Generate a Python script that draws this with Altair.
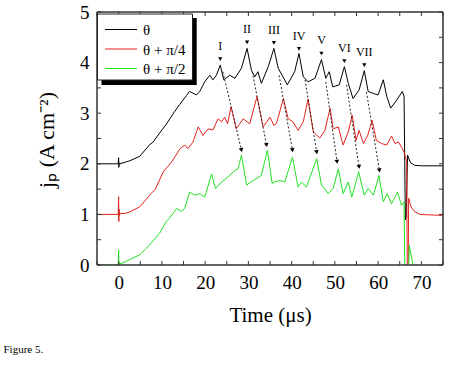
import math
import altair as alt
import pandas as pd

# ---------------- data ----------------
black_t = [-5, -0.1, 0, 0.05, 0.15, 0.3, 1.8, 2.6, 4.9, 7.2, 7.9, 8.8, 11.0, 12.7, 14.1, 15.7, 16.4, 18.0,
           18.75, 19.9, 21.1, 21.8, 22.6, 23.5, 24.3, 25.7, 26.9, 28.4, 29.7, 30.7, 31.5, 32.2, 33.0, 34.6,
           35.9, 36.9, 38.0, 39.0, 40.7, 41.7, 42.7, 43.8, 45.4, 46.9, 47.9, 48.7, 49.5, 51.0, 52.2, 53.1,
           54.2, 55.6, 56.8, 57.7, 58.9, 60.0, 61.2, 62.0, 62.9, 64.3, 65.6, 66.0, 66.3, 66.5, 66.8, 67.5,
           68.5, 70, 75]
black_v = [2.0, 2.0, 2.12, 1.93, 2.02, 2.0, 2.04, 2.06, 2.15, 2.38, 2.42, 2.53, 2.78, 3.0, 3.17, 3.35, 3.43, 3.36,
           3.43, 3.62, 3.75, 3.66, 3.75, 3.95, 3.66, 3.75, 3.69, 3.89, 4.28, 3.85, 3.72, 3.82, 3.59, 3.92,
           4.28, 3.89, 3.72, 3.56, 3.82, 4.18, 3.72, 3.62, 3.69, 4.06, 3.69, 3.82, 3.52, 3.56, 3.92, 3.59,
           3.29, 3.46, 3.84, 3.43, 3.39, 3.36, 3.66, 3.33, 3.10, 3.26, 3.43, 3.33, 0.89, 0.95, 2.17, 2.02,
           1.97, 1.96, 1.96]

red_t = [-5, -0.1, 0, 0.05, 0.1, 0.2, 0.4, 1.5, 2.6, 4.9, 7.2, 7.6, 8.5, 10.3, 12.3, 14.2, 15.3, 16.0, 17.2,
         18.4, 19.5, 20.7, 21.8, 23.0, 23.8, 24.5, 25.2, 26.0, 27.2, 28.8, 30.3, 32.0, 33.4, 35.0, 35.9, 36.5,
         38.1, 39.2, 40.3, 41.5, 42.7, 43.8, 45.0, 46.5, 47.7, 48.9, 49.6, 50.8, 51.9, 53.1, 54.0, 54.9, 55.6,
         56.6, 57.6, 58.6, 59.6, 60.8, 62.0, 63.1, 63.9, 64.7, 65.4, 66.0, 66.6, 66.75, 66.95, 67.05, 67.6,
         68.5, 69.7, 72, 75]
red_v = [1.0, 1.0, 1.35, 0.86, 1.1, 0.98, 1.02, 1.02, 1.05, 1.15, 1.38, 1.42, 1.5, 1.84, 2.04, 2.3, 2.37, 2.30, 2.43,
         2.73, 2.56, 2.69, 2.67, 2.89, 2.83, 2.92, 2.79, 3.13, 2.69, 2.89, 2.79, 3.33, 2.73, 2.92, 2.76, 2.8,
         3.29, 2.89, 2.83, 2.66, 2.83, 3.28, 2.63, 2.51, 2.66, 3.10, 2.69, 2.73, 2.37, 2.63, 2.96, 2.46, 2.66,
         2.40, 2.56, 2.86, 2.46, 2.40, 2.37, 2.55, 2.40, 2.43, 2.33, 2.23, 2.05, -0.3, -0.3, 1.32, 1.15,
         1.05, 1.0, 0.99, 0.98]

green_t = [-5, -0.1, 0, 0.05, 0.1, 0.3, 1.5, 3.3, 4.9, 7.2, 9.5, 11.0, 11.8, 12.6, 13.4, 14.5, 15.3, 16.4, 17.6,
           18.75, 19.9, 21.5, 22.4, 23.8, 25.3, 26.9, 27.6, 28.4, 29.6, 31.1, 33.0, 34.4, 35.5, 36.1, 37.3,
           38.4, 40.2, 41.5, 42.3, 43.4, 45.8, 46.9, 48.5, 49.6, 50.8, 51.9, 53.1, 53.9, 55.5, 56.8, 57.7,
           58.9, 60.2, 61.2, 62.1, 63.1, 64.5, 65.4, 66.0, 66.2, 67.0, 67.2, 67.6, 68.1, 68.5]
green_v = [0.0, 0.0, 0.3, -0.02, 0.05, 0.02, 0.06, 0.14, 0.2, 0.4, 0.63, 0.86, 0.93, 1.02, 1.12, 1.06, 1.12, 1.44, 1.38,
           1.41, 1.34, 1.80, 1.51, 1.64, 1.74, 1.87, 1.90, 2.17, 1.58, 1.67, 1.77, 2.27, 1.61, 1.64, 1.67,
           1.64, 2.13, 1.54, 1.64, 1.54, 2.10, 1.58, 1.41, 1.51, 1.90, 1.41, 1.64, 1.34, 1.84, 1.38, 1.51,
           1.38, 1.77, 1.25, 1.41, 1.21, 1.44, 1.18, 1.25, -0.3, -0.3, 0.39, 0.2, 0.0, -0.2]

series_names = ["θ", "θ + π/4", "θ + π/2"]
series_colors = ["#000000", "#e3231f", "#22e022"]

peak_labels = ["I", "II", "III", "IV", "V", "VI", "VII"]
peak_t = [23.5, 29.7, 35.9, 41.7, 46.9, 52.2, 56.8]
peak_v = [4.07, 4.40, 4.39, 4.27, 4.18, 4.03, 3.95]

arrow_t0 = [24.1, 30.9, 37.1, 43.1, 47.9, 52.7, 57.3]
arrow_v0 = [3.82, 3.82, 3.75, 3.66, 3.62, 3.56, 3.42]
arrow_t1 = [28.4, 34.2, 40.2, 45.8, 50.5, 55.6, 60.3]
arrow_v1 = [2.27, 2.37, 2.27, 2.23, 2.04, 1.94, 1.87]

x_ticks = [-5, 0, 5, 10, 15, 20, 25, 30, 35, 40, 45, 50, 55, 60, 65, 70, 75]
y_ticks = [0, 0.5, 1, 1.5, 2, 2.5, 3, 3.5, 4, 4.5, 5]

# ---------------- layout ----------------
W, H = 346, 253
X_DOM = [-5, 75]
Y_DOM = [0, 5]
FONT = "Liberation Serif"
AXC = "#333333"
TK = 4

rows = []
for name, ts, vs in [(series_names[0], black_t, black_v),
                     (series_names[1], red_t, red_v),
                     (series_names[2], green_t, green_v)]:
    for i, (t, v) in enumerate(zip(ts, vs)):
        rows.append({"t": t, "v": v, "s": name, "i": i})
lines_df = pd.DataFrame(rows)

pxt = W / (X_DOM[1] - X_DOM[0])
pxv = H / (Y_DOM[1] - Y_DOM[0])
angles = []
for a, b, c, d in zip(arrow_t0, arrow_v0, arrow_t1, arrow_v1):
    dx = (c - a) * pxt
    dy = (b - d) * pxv
    angles.append((360 - math.degrees(math.atan2(dx, dy))) % 360)
arrows_df = pd.DataFrame({"t0": arrow_t0, "v0": arrow_v0, "t1": arrow_t1, "v1": arrow_v1, "ang": angles})
peaks_df = pd.DataFrame({"t": peak_t, "v": peak_v, "lab": peak_labels})
xt_df = pd.DataFrame({"t": x_ticks})
yt_df = pd.DataFrame({"v": y_ticks})

xs = alt.Scale(domain=X_DOM, nice=False, zero=False)
ys = alt.Scale(domain=Y_DOM, nice=False, zero=False)

x_axis = alt.Axis(title="Time (μs)", values=x_ticks, ticks=False, domain=False, grid=False,
                  labelExpr="datum.value % 10 == 0 ? format(datum.value, 'd') : ''",
                  labelFont=FONT, labelFontSize=19, labelColor="black", labelPadding=8,
                  labelFlush=False, labelOverlap=False,
                  titleFont=FONT, titleFontSize=21, titleFontWeight="normal", titleColor="black",
                  titlePadding=12)
y_axis = alt.Axis(title=None, values=y_ticks, ticks=False, domain=False, grid=False,
                  labelExpr="datum.value % 1 == 0 ? format(datum.value, 'd') : ''",
                  labelFont=FONT, labelFontSize=19, labelColor="black", labelPadding=8,
                  labelFlush=False, labelOverlap=False)


def X(field):
    return alt.X(field, type="quantitative", scale=xs, axis=x_axis)


def Y(field):
    return alt.Y(field, type="quantitative", scale=ys, axis=y_axis)


lines = alt.Chart(lines_df).mark_line(strokeWidth=1, clip=True).encode(
    x=X("t"), y=Y("v"),
    color=alt.Color("s:N", scale=alt.Scale(domain=series_names, range=series_colors), legend=None),
    order="i:Q",
)

one = pd.DataFrame({"a": [0]})

# inward ticks on all four sides
tick_layers = [
    alt.Chart(xt_df).mark_rule(color=AXC, strokeWidth=1).encode(
        x=X("t"), y=alt.value(H), y2=alt.value(H - TK)),
    alt.Chart(xt_df).mark_rule(color=AXC, strokeWidth=1).encode(
        x=X("t"), y=alt.value(0), y2=alt.value(TK)),
    alt.Chart(yt_df).mark_rule(color=AXC, strokeWidth=1).encode(
        y=Y("v"), x=alt.value(0), x2=alt.value(TK)),
    alt.Chart(yt_df).mark_rule(color=AXC, strokeWidth=1).encode(
        y=Y("v"), x=alt.value(W), x2=alt.value(W - TK)),
]

# frame
frame_layers = [
    alt.Chart(one).mark_rule(color=AXC, strokeWidth=1.5).encode(
        x=alt.value(0), x2=alt.value(W), y=alt.value(0)),
    alt.Chart(one).mark_rule(color=AXC, strokeWidth=1.5).encode(
        x=alt.value(0), x2=alt.value(W), y=alt.value(H)),
    alt.Chart(one).mark_rule(color=AXC, strokeWidth=1.5).encode(
        x=alt.value(0), y=alt.value(0), y2=alt.value(H)),
    alt.Chart(one).mark_rule(color=AXC, strokeWidth=1.5).encode(
        x=alt.value(W), y=alt.value(0), y2=alt.value(H)),
]

arrow_lines = alt.Chart(arrows_df).mark_rule(strokeDash=[2, 2], strokeWidth=1, color="#222").encode(
    x=X("t0"), y=Y("v0"), x2="t1:Q", y2="v1:Q",
)
arrow_heads = alt.Chart(arrows_df).mark_point(shape="triangle-down", filled=True, color="black",
                                              size=22, opacity=1).encode(
    x=X("t1"), y=Y("v1"), angle=alt.Angle("ang:Q", scale=None),
)
peak_marks = alt.Chart(peaks_df).mark_point(shape="triangle-down", filled=True, color="black",
                                            size=18, opacity=1).encode(
    x=X("t"), y=Y("v"),
)
peak_text = alt.Chart(peaks_df).mark_text(font=FONT, fontSize=12, dy=-13, baseline="middle",
                                          align="center", color="black").encode(
    x=X("t"), y=Y("v"), text="lab:N",
)

# legend (drawn as a boxed key with a drop shadow)
leg_layers = [
    alt.Chart(one).mark_rect(color="black").encode(
        x=alt.value(4.5), x2=alt.value(99.7), y=alt.value(6), y2=alt.value(73)),
    alt.Chart(one).mark_rect(fill="white", stroke="#222", strokeWidth=1).encode(
        x=alt.value(0.5), x2=alt.value(95.5), y=alt.value(2), y2=alt.value(68)),
]
for k, (name, col) in enumerate(zip(series_names, series_colors)):
    yy = 17.5 + 19.5 * k
    leg_layers.append(alt.Chart(one).mark_rule(color=col, strokeWidth=1).encode(
        x=alt.value(8), x2=alt.value(40), y=alt.value(yy)))
    leg_layers.append(alt.Chart(one).mark_text(font=FONT, fontSize=15, align="left", baseline="middle",
                                               color="black").encode(
        x=alt.value(46), y=alt.value(yy + 0.5), text=alt.value(name)))

# y axis title
y_title = alt.Chart(one).mark_text(font=FONT, fontSize=22, angle=270, align="center", baseline="middle",
                                   color="black").encode(
    x=alt.value(-50), y=alt.value(128), text=alt.value("jₚ (A cm⁻²)"))

fig_text = alt.Chart(one).mark_text(font=FONT, fontSize=11, align="left", baseline="alphabetic",
                                    color="black").encode(
    x=alt.value(-93.5), y=alt.value(341), text=alt.value("Figure 5."))

chart = alt.layer(
    lines, *tick_layers, *frame_layers, arrow_lines, arrow_heads, peak_marks, peak_text,
    *leg_layers, y_title, fig_text
).properties(
    width=W, height=H,
    autosize=alt.AutoSizeParams(type="none"),
    padding={"left": 97, "top": 12, "right": 7, "bottom": 104},
    background="white",
).configure_view(stroke=None)

chart.save("out.html", embed_options={"renderer": "svg", "actions": False})
